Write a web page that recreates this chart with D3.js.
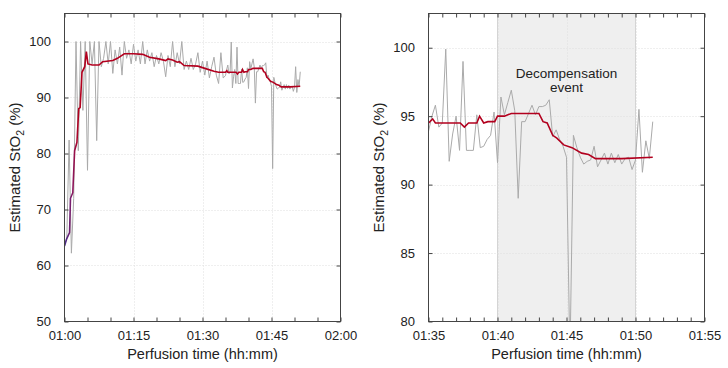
<!DOCTYPE html>
<html><head><meta charset="utf-8">
<script src="https://cdn.jsdelivr.net/npm/d3@7"></script>
<style>
body{margin:0;background:#fff}
text{font-family:"Liberation Sans",Arial,sans-serif;fill:#222}
</style>
</head><body><svg id="c" width="728" height="368"></svg>
<script>
// Raw estimated StO2, 30 s samples from 01:00 (minute 60)
const rawEarlyStart = 60, rawEarlyStep = 0.5;
const rawEarly = [63.5,65.0,82.4,62.2,72.0,100,80.5,100,87.7,100,
  77.0,100,96.0,100,82.3,100,95.5,97.0,100,96.0,
  100,94.3,98.5,96.0,99.0,94.0,100,97.0,98.5,96.0,
  99.5,96.5,98.5,96.0,100,96.0,98.5,96.5,98.0,95.5,
  97.5,96.0,98.0,96.5,93.7,97.5,95.5,100,95.5,98.0,
  96.0,100,95.0,96.5,95.0,97.0,95.0,96.0,98.0,94.5,
  96.5,94.0,96.5,93.5,95.5,97.2,94.0,92.5,98.0,93.5];
// Raw estimated StO2, 15 s samples from 01:35 (minute 95)
const rawLateStart = 95, rawLateStep = 0.25;
const rawLate = [93.9,95.0,95.8,94.2,94.5,99.9,91.7,93.7,95.0,92.5,
  99.0,92.5,92.5,92.5,95.1,92.7,92.8,93.3,93.6,95.3,
  91.6,96.4,95.1,96.0,96.9,95.4,89.0,94.6,94.6,95.2,
  95.8,95.1,95.7,95.7,95.8,96.2,93.5,94.0,93.3,92.8,
  92.0,77.3,93.6,92.7,92.0,91.5,91.7,91.8,92.8,91.3,
  91.8,92.3,91.5,92.3,91.6,92.2,91.5,91.9,92.0,91.1,
  91.8,95.5,90.9,93.2,91.9,94.6];
// Smoothed estimate (minutes, %)
const smoothTime = [60.0,60.5,61.1,61.3,61.8,62.2,62.7,63.1,63.4,63.8,64.4,64.75,65.1,66.0,67.5,68.3,70.5,71.5,73.0,75.0,77.0,78.5,80.5,82.0,82.5,83.5,84.5,85.0,86.0,89.0,90.5,92.5,93.5,
  95.0,95.3,95.5,97.3,97.6,97.9,98.5,98.7,99.0,99.3,99.8,100.0,100.5,101.0,103.0,103.3,103.6,104.0,104.3,104.8,105.4,106.1,106.6,107.1,109.0,111.25];
const smoothValue = [63.5,64.8,65.9,72.0,73.0,80.5,82.0,88.0,88.2,94.5,95.5,98.2,96.0,95.8,95.8,96.4,96.6,97.0,97.8,97.8,97.7,97.2,96.9,96.6,96.9,96.7,96.3,96.4,95.7,95.6,95.2,94.7,94.5,
  94.5,94.8,94.5,94.5,94.2,94.5,94.5,95.0,94.5,94.6,94.6,95.0,95.0,95.2,95.2,94.6,94.5,93.6,93.4,92.9,92.7,92.3,92.2,91.9,91.9,92.0];
// Axes
const leftXTicks = [60,75,90,105,120];
const leftYTicks = [50,60,70,80,90,100];
const rightXTicks = [95,100,105,110,115];
const rightYTicks = [80,85,90,95,100];
const eventWindow = [100,110];
const eventLabel = ["Decompensation","event"];
const xTitle = "Perfusion time (hh:mm)";

const raw = rawEarly.map((v,i)=>({t:rawEarlyStart+i*rawEarlyStep,v}))
  .concat(rawLate.map((v,i)=>({t:rawLateStart+i*rawLateStep,v})));
const smooth = smoothTime.map((t,i)=>({t,v:smoothValue[i]}));

const svg = d3.select("#c");
const defs = svg.append("defs");
const fmt = t => { const h=Math.floor(t/60), m=Math.round(t%60); return String(h).padStart(2,"0")+":"+String(m).padStart(2,"0"); };

function panel(cfg){
  const x = d3.scaleLinear().domain(cfg.xd).range([cfg.x0,cfg.x1]);
  const y = d3.scaleLinear().domain(cfg.yd).range([cfg.y1,cfg.y0]);
  const g = svg.append("g");
  defs.append("clipPath").attr("id","clip"+cfg.id).append("rect")
    .attr("x",cfg.x0).attr("y",cfg.y0).attr("width",cfg.x1-cfg.x0).attr("height",cfg.y1-cfg.y0);
  const plot = g.append("g").attr("clip-path","url(#clip"+cfg.id+")");
  if(cfg.shade){
    plot.append("rect").attr("x",x(cfg.shade[0])).attr("y",cfg.y0)
      .attr("width",x(cfg.shade[1])-x(cfg.shade[0])).attr("height",cfg.y1-cfg.y0)
      .attr("fill","#efefef");
    [cfg.shade[0],cfg.shade[1]].forEach(s=>plot.append("line").attr("x1",x(s)).attr("x2",x(s))
      .attr("y1",cfg.y0).attr("y2",cfg.y1).attr("stroke","#d4d4d4").attr("stroke-width",1));
  }
  // grid
  cfg.xt.filter(t=>t>cfg.xd[0]&&t<cfg.xd[1]).forEach(t=>plot.append("line")
    .attr("x1",Math.round(x(t))+0.5).attr("x2",Math.round(x(t))+0.5).attr("y1",cfg.y0).attr("y2",cfg.y1)
    .attr("stroke","#dedede").attr("stroke-dasharray","1,2"));
  cfg.yt.filter(t=>t>cfg.yd[0]&&t<cfg.yd[1]).forEach(t=>plot.append("line")
    .attr("y1",Math.round(y(t))+0.5).attr("y2",Math.round(y(t))+0.5).attr("x1",cfg.x0).attr("x2",cfg.x1)
    .attr("stroke","#dedede").attr("stroke-dasharray","1,2"));
  const line = d3.line().x(d=>x(d.t)).y(d=>y(d.v));
  plot.append("path").datum(raw).attr("d",line).attr("fill","none").attr("stroke","#aaaaaa").attr("stroke-width",1);
  let stroke = "#b2001e";
  if(cfg.grad){
    const gr = defs.append("linearGradient").attr("id","grad"+cfg.id).attr("gradientUnits","userSpaceOnUse")
      .attr("x1",x(60)).attr("x2",x(63)).attr("y1",0).attr("y2",0);
    gr.append("stop").attr("offset",0).attr("stop-color","#43308c");
    gr.append("stop").attr("offset",0.55).attr("stop-color","#861a66");
    gr.append("stop").attr("offset",1).attr("stop-color","#b2001e");
    stroke = "url(#grad"+cfg.id+")";
  }
  plot.append("path").datum(smooth).attr("d",line).attr("fill","none").attr("stroke",stroke).attr("stroke-width",1.6);
  if(cfg.label){
    const cx = x((cfg.shade[0]+cfg.shade[1])/2);
    cfg.label.forEach((s,i)=>g.append("text").attr("x",cx).attr("y",78+i*13.5).attr("text-anchor","middle")
      .attr("font-size","13.5px").text(s));
  }
  // axes
  const axes = g.append("g");
  const minor = d3.range(cfg.xd[0],cfg.xd[1]+0.001,cfg.minor);
  const mk = (a)=>a.call(s=>s.select(".domain").remove()).call(s=>s.selectAll("line").attr("stroke","#444"));
  axes.append("g").attr("transform",`translate(0,${cfg.y1})`)
    .call(d3.axisBottom(x).tickValues(minor).tickSize(-4).tickFormat("")).call(mk);
  axes.append("g").attr("transform",`translate(0,${cfg.y0})`)
    .call(d3.axisTop(x).tickValues(minor).tickSize(-4).tickFormat("")).call(mk);
  axes.append("g").attr("transform",`translate(0,${cfg.y1})`)
    .call(d3.axisBottom(x).tickValues(cfg.xt).tickSize(0).tickPadding(9.5).tickFormat(fmt)).call(mk)
    .selectAll("text").attr("font-size","13px").attr("fill","#222");
  axes.append("g").attr("transform",`translate(${cfg.x0},0)`)
    .call(d3.axisLeft(y).tickValues(cfg.yt).tickSize(-4).tickPadding(13.5).tickFormat(d3.format("d"))).call(mk)
    .selectAll("text").attr("font-size","13px").attr("fill","#222");
  axes.append("g").attr("transform",`translate(${cfg.x1},0)`)
    .call(d3.axisRight(y).tickValues(cfg.yt).tickSize(-4).tickFormat("")).call(mk);
  axes.selectAll("text").attr("font-family",null);
  g.append("rect").attr("x",cfg.x0).attr("y",cfg.y0).attr("width",cfg.x1-cfg.x0).attr("height",cfg.y1-cfg.y0)
    .attr("fill","none").attr("stroke","#444").attr("stroke-width",1);
  // titles
  g.append("text").attr("x",(cfg.x0+cfg.x1)/2).attr("y",359).attr("text-anchor","middle")
    .attr("font-size","14.5px").text(xTitle);
  const yt = g.append("text").attr("transform",`translate(${cfg.x0-45},${(cfg.y0+cfg.y1)/2}) rotate(-90)`)
    .attr("text-anchor","middle").attr("font-size","15px");
  yt.append("tspan").text("Estimated StO");
  yt.append("tspan").attr("font-size","10.5px").attr("dy","4").text("2");
  yt.append("tspan").attr("dy","-4").text(" (%)");
}

panel({id:"L",x0:64.5,x1:340.5,y0:13.5,y1:321.5,xd:[60,120],yd:[50,105],xt:leftXTicks,yt:leftYTicks,minor:5,grad:true});
panel({id:"R",x0:428.5,x1:704.5,y0:13.5,y1:321.5,xd:[95,115],yd:[80,102.5],xt:rightXTicks,yt:rightYTicks,minor:1,shade:eventWindow,label:eventLabel});
</script></body></html>
